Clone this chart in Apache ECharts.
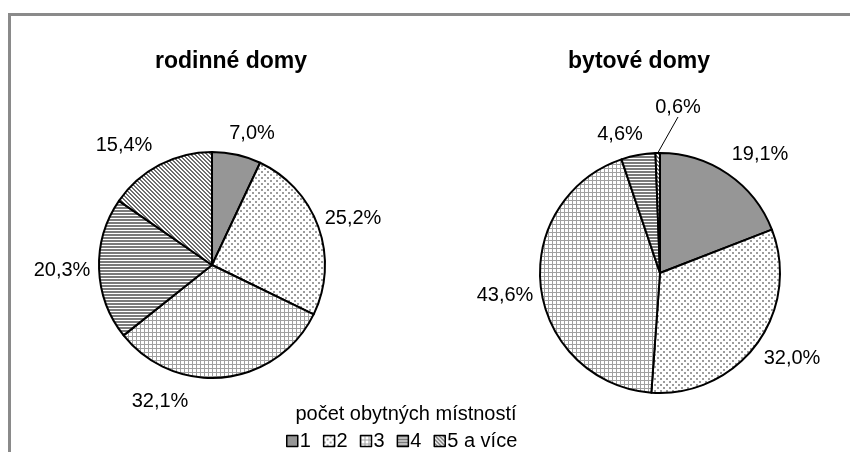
<!DOCTYPE html>
<html>
<head>
<meta charset="utf-8">
<script src="https://cdn.jsdelivr.net/npm/echarts@6/dist/echarts.min.js"></script>
<style>
  html, body { margin: 0; padding: 0; background: #fff; }
  #chart { width: 850px; height: 452px; }
</style>
</head>
<body>
<div id="chart"></div>
<script>
// data
var categories = ['1', '2', '3', '4', '5 a více'];
var rodinneDomy = [7.0, 25.2, 32.1, 20.3, 15.4];
var bytoveDomy = [19.1, 32.0, 43.6, 4.6, 0.6];
var pieTitles = ['rodinné domy', 'bytové domy'];
var legendTitle = 'počet obytných místností';

var FONT = '"Liberation Sans", Arial, sans-serif';

// where Excel put the percentage labels (label centres, px)
var labelSpots = [
    [[252, 133], [353, 218], [160, 401], [62, 270], [124, 145]],
    [[760, 154], [792, 358], [505, 295], [620, 134], [678, 107]]
];

// grayscale fill patterns, like the old Excel ones
function pattern(kind) {
    var c = document.createElement('canvas');
    var ctx = c.getContext('2d');
    if (kind === 'solid') {
        c.width = c.height = 4;
        ctx.fillStyle = '#969696';
        ctx.fillRect(0, 0, 4, 4);
    } else if (kind === 'dots') {
        c.width = c.height = 6;
        ctx.fillStyle = '#fff';
        ctx.fillRect(0, 0, 6, 6);
        ctx.fillStyle = '#9c9c9c';
        ctx.fillRect(0, 0, 2, 2);
        ctx.fillRect(3, 3, 2, 2);
    } else if (kind === 'grid') {
        c.width = c.height = 4;
        ctx.fillStyle = '#fff';
        ctx.fillRect(0, 0, 4, 4);
        ctx.fillStyle = '#a0a0a0';
        ctx.fillRect(0, 0, 4, 1);
        ctx.fillRect(0, 0, 1, 4);
    } else if (kind === 'hlines') {
        c.width = c.height = 3;
        ctx.fillStyle = '#fff';
        ctx.fillRect(0, 0, 3, 3);
        ctx.fillStyle = '#7a7a7a';
        ctx.fillRect(0, 0, 3, 2);
    } else if (kind === 'diag') {
        c.width = c.height = 4;
        ctx.fillStyle = '#fff';
        ctx.fillRect(0, 0, 4, 4);
        ctx.fillStyle = '#6e6e6e';
        for (var i = 0; i < 4; i++) {
            ctx.fillRect(i, i, 1, 1);
            ctx.fillRect((i + 1) % 4, i, 1, 1);
        }
    }
    return { image: c, repeat: 'repeat' };
}

var fills = [pattern('solid'), pattern('dots'), pattern('grid'), pattern('hlines'), pattern('diag')];

function pieData(values, leaderIndex) {
    return values.map(function (v, i) {
        var item = { name: categories[i], value: v, itemStyle: { color: fills[i] } };
        if (i === leaderIndex) {
            item.labelLine = { show: true, length: 20, length2: 0, lineStyle: { color: '#000', width: 1 } };
        }
        return item;
    });
}

function fmt(p) {
    return p.value.toFixed(1).replace('.', ',') + '%';
}

function placeLabel(params) {
    var s = labelSpots[params.seriesIndex][params.dataIndex];
    return { x: s[0], y: s[1], align: 'center', verticalAlign: 'middle' };
}

var chart = echarts.init(document.getElementById('chart'));

var option = {
    animation: false,
    backgroundColor: '#fff',
    title: [
        { text: pieTitles[0], left: 226, top: 45, textAlign: 'center',
          textStyle: { fontFamily: FONT, fontSize: 23, fontWeight: 'bold', color: '#000' } },
        { text: pieTitles[1], left: 634, top: 45, textAlign: 'center',
          textStyle: { fontFamily: FONT, fontSize: 23, fontWeight: 'bold', color: '#000' } }
    ],
    legend: {
        data: categories,
        left: 281,
        top: 426,
        icon: 'rect',
        itemWidth: 11,
        itemHeight: 11,
        itemGap: 12,
        itemStyle: { borderColor: '#000', borderWidth: 1.5 },
        textStyle: { fontFamily: FONT, fontSize: 20, color: '#000', padding: [0, 0, 0, -3] }
    },
    graphic: [
        { type: 'rect', shape: { x: 9.5, y: 14.5, width: 900, height: 500 }, silent: true,
          style: { fill: null, stroke: '#8a8a8a', lineWidth: 3 } },
        { type: 'text', x: 406, y: 404, silent: true,
          style: { text: legendTitle, font: '20px ' + FONT, fill: '#000', textAlign: 'center' } }
    ],
    series: [
        {
            type: 'pie',
            center: [212, 265],
            radius: 113,
            startAngle: 90,
            clockwise: true,
            data: pieData(rodinneDomy, -1),
            itemStyle: { borderColor: '#000', borderWidth: 2 },
            label: { show: true, position: 'outside', formatter: fmt,
                     fontFamily: FONT, fontSize: 20, color: '#000' },
            labelLine: { show: false, length: 8, length2: 0 },
            labelLayout: placeLabel
        },
        {
            type: 'pie',
            center: [660, 273],
            radius: 120,
            startAngle: 90,
            clockwise: true,
            data: pieData(bytoveDomy, 4),
            itemStyle: { borderColor: '#000', borderWidth: 2 },
            label: { show: true, position: 'outside', formatter: fmt,
                     fontFamily: FONT, fontSize: 20, color: '#000' },
            labelLine: { show: false, length: 8, length2: 0 },
            labelLayout: placeLabel
        }
    ]
};

chart.setOption(option);
</script>
</body>
</html>
